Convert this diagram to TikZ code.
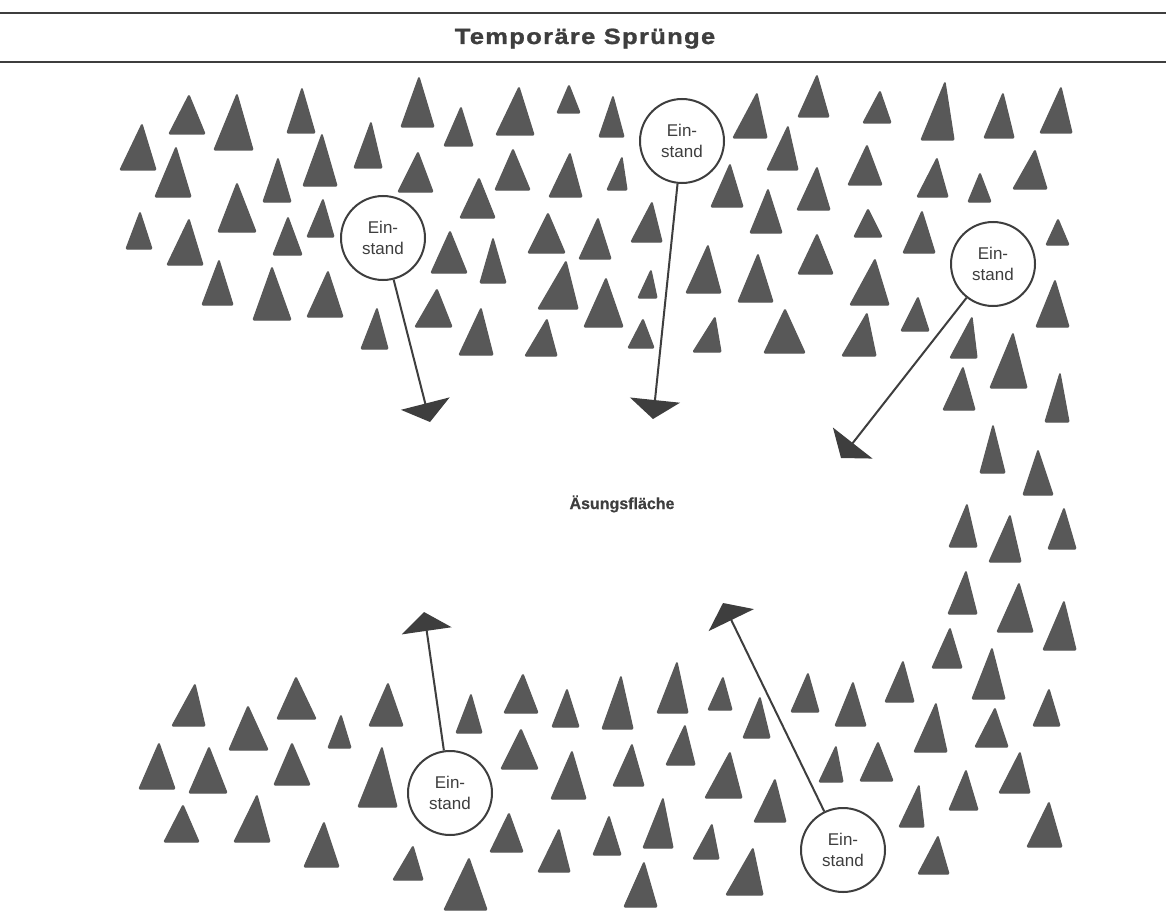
\documentclass[tikz,border=0pt]{standalone}
\usepackage{fontspec}
\setmainfont{Liberation Sans}
\newfontfamily\titlefont[FakeStretch=1.16,LetterSpace=6,FakeBold=1.2]{Liberation Sans Bold}
\newfontfamily\labelfont[FakeBold=0.6]{Liberation Sans Bold}
\usetikzlibrary{arrows.meta}
\definecolor{treegray}{RGB}{88,88,88}
\definecolor{inkgray}{RGB}{62,62,62}
\newcommand\tr[5]{\fill[treefill] (#1,#2) -- (#4,#5) -- (#3,#5) -- cycle;}
\begin{document}
\begin{tikzpicture}[x=1pt,y=-1pt,
  treefill/.style={fill=treegray, draw=treegray, line width=1.2pt, line join=round, rounded corners=1pt},
  einstand/.style={circle, draw=inkgray, line width=2pt, fill=white, minimum size=84pt, inner sep=0pt,
    align=center, text=inkgray, font=\fontsize{17}{21}\selectfont},
  jump/.style={draw=inkgray, line width=2pt, -{Triangle[width=50pt,length=19pt]}},
  rule/.style={draw=inkgray, line width=1.4pt}]
\useasboundingbox (0,0) rectangle (1166,912);
\fill[white] (0,0) rectangle (1166,912);
% header
\coordinate (hl1) at (0,13); \coordinate (hr1) at (1166,13);
\coordinate (hl2) at (0,62); \coordinate (hr2) at (1166,62);
\draw[rule] (hl1) -- (hr1);
\draw[rule] (hl2) -- (hr2);
\node[anchor=base, text=inkgray, font={\titlefont\fontsize{22}{26}\selectfont}] (title) at (585,44) {Temporäre Sprünge};
% upper forest
\tr{142}{124}{120}{156}{170}
\tr{189}{95}{169}{205}{134}
\tr{237}{94}{214}{253}{150}
\tr{302}{88}{287}{315}{133}
\tr{419}{77}{401}{434}{127}
\tr{461}{107}{444}{473}{146}
\tr{176}{147}{155}{191}{197}
\tr{278}{158}{263}{291}{202}
\tr{322}{134}{303}{337}{186}
\tr{371}{122}{354}{382}{168}
\tr{418}{152}{398}{433}{192}
\tr{479}{178}{460}{495}{218}
\tr{140}{212}{126}{152}{249}
\tr{237}{183}{218}{256}{232}
\tr{189}{219}{167}{203}{265}
\tr{288}{217}{273}{302}{255}
\tr{323}{199}{307}{334}{237}
\tr{450}{231}{431}{467}{273}
\tr{219}{260}{202}{233}{305}
\tr{272}{267}{253}{291}{320}
\tr{328}{271}{307}{343}{317}
\tr{377}{308}{361}{388}{349}
\tr{437}{289}{415}{452}{327}
\tr{481}{308}{459}{493}{355}
\tr{519}{87}{496}{534}{135}
\tr{569}{85}{557}{580}{113}
\tr{613}{96}{599}{624}{137}
\tr{757}{93}{733}{767}{138}
\tr{817}{75}{798}{829}{117}
\tr{513}{149}{495}{530}{190}
\tr{570}{153}{549}{582}{197}
\tr{622}{157}{607}{627}{190}
\tr{788}{126}{767}{798}{170}
\tr{730}{164}{711}{743}{207}
\tr{817}{167}{797}{830}{210}
\tr{548}{213}{528}{565}{253}
\tr{598}{218}{579}{611}{259}
\tr{652}{202}{631}{662}{242}
\tr{768}{189}{750}{782}{233}
\tr{493}{238}{480}{506}{283}
\tr{566}{261}{538}{578}{309}
\tr{606}{278}{584}{623}{327}
\tr{651}{270}{638}{657}{298}
\tr{708}{245}{686}{721}{293}
\tr{758}{254}{738}{773}{302}
\tr{817}{234}{798}{833}{274}
\tr{547}{319}{525}{557}{356}
\tr{643}{319}{628}{654}{348}
\tr{715}{317}{693}{721}{352}
\tr{785}{309}{764}{805}{353}
\tr{880}{91}{863}{891}{123}
\tr{945}{82}{921}{954}{140}
\tr{1003}{93}{984}{1014}{138}
\tr{1061}{87}{1040}{1072}{133}
\tr{867}{145}{848}{882}{185}
\tr{937}{158}{917}{948}{197}
\tr{980}{173}{968}{991}{202}
\tr{1035}{150}{1013}{1047}{189}
\tr{868}{209}{854}{882}{237}
\tr{922}{211}{903}{935}{253}
\tr{1058}{219}{1046}{1069}{245}
\tr{875}{259}{850}{889}{305}
\tr{918}{297}{901}{929}{331}
\tr{1055}{280}{1036}{1069}{327}
\tr{867}{313}{842}{876}{356}
\tr{972}{317}{950}{977}{358}
\tr{1013}{333}{990}{1027}{388}
\tr{963}{367}{943}{975}{410}
\tr{1060}{373}{1045}{1069}{422}
\tr{993}{425}{980}{1005}{473}
\tr{1038}{450}{1023}{1053}{495}
% right strip
\tr{967}{504}{949}{977}{547}
\tr{1010}{515}{989}{1021}{562}
\tr{1064}{508}{1048}{1076}{549}
\tr{966}{571}{948}{977}{614}
\tr{1019}{583}{997}{1033}{632}
\tr{1064}{601}{1043}{1076}{650}
\tr{950}{628}{932}{962}{668}
\tr{992}{648}{972}{1005}{699}
\tr{903}{661}{885}{914}{702}
% lower forest
\tr{195}{684}{172}{205}{726}
\tr{248}{706}{229}{268}{750}
\tr{296}{677}{277}{316}{719}
\tr{341}{715}{328}{351}{748}
\tr{388}{683}{369}{403}{726}
\tr{471}{694}{456}{482}{733}
\tr{159}{743}{139}{175}{789}
\tr{209}{747}{189}{227}{793}
\tr{292}{743}{274}{310}{785}
\tr{382}{747}{358}{397}{807}
\tr{183}{805}{164}{199}{842}
\tr{257}{795}{234}{270}{842}
\tr{324}{822}{304}{339}{867}
\tr{413}{846}{393}{423}{880}
\tr{469}{858}{444}{487}{910}
\tr{523}{674}{504}{538}{713}
\tr{567}{689}{552}{579}{727}
\tr{621}{676}{602}{633}{729}
\tr{677}{662}{657}{688}{713}
\tr{723}{677}{708}{732}{710}
\tr{760}{697}{743}{770}{738}
\tr{808}{673}{791}{819}{712}
\tr{853}{682}{835}{866}{726}
\tr{521}{729}{501}{538}{769}
\tr{572}{751}{551}{586}{799}
\tr{632}{744}{613}{644}{786}
\tr{685}{725}{666}{695}{765}
\tr{730}{752}{705}{742}{798}
\tr{775}{779}{754}{786}{822}
\tr{836}{746}{819}{843}{782}
\tr{878}{742}{860}{893}{781}
\tr{509}{813}{490}{523}{852}
\tr{559}{829}{538}{570}{872}
\tr{609}{816}{593}{621}{855}
\tr{663}{798}{643}{673}{848}
\tr{712}{824}{693}{719}{859}
\tr{753}{848}{726}{763}{895}
\tr{644}{862}{624}{657}{907}
\tr{1049}{689}{1033}{1060}{726}
\tr{936}{703}{914}{947}{752}
\tr{995}{708}{975}{1008}{747}
\tr{1020}{752}{999}{1030}{793}
\tr{966}{770}{949}{978}{810}
\tr{919}{785}{899}{924}{827}
\tr{1049}{802}{1027}{1062}{847}
\tr{938}{836}{918}{949}{874}
% clearing label
\node[anchor=base, text=inkgray, font={\labelfont\fontsize{16}{19}\selectfont}] (clear) at (622,509) {Äsungsfläche};
% Einstand circles
\node[einstand] (c1) at (383,238) {Ein-\\stand};
\node[einstand] (c2) at (682,141) {Ein-\\stand};
\node[einstand] (c3) at (993,264) {Ein-\\stand};
\node[einstand] (c4) at (450,793) {Ein-\\stand};
\node[einstand] (c5) at (843,850) {Ein-\\stand};
% arrow tips
\coordinate (t1) at (430,422);
\coordinate (t2) at (653,419);
\coordinate (t3) at (841,458);
\coordinate (t4) at (424,612);
\coordinate (t5) at (723,603);
\draw[jump] (c1) -- (t1);
\draw[jump] (c2) -- (t2);
\draw[jump] (c3) -- (t3);
\draw[jump] (c4) -- (t4);
\draw[jump] (c5) -- (t5);
\end{tikzpicture}
\end{document}
